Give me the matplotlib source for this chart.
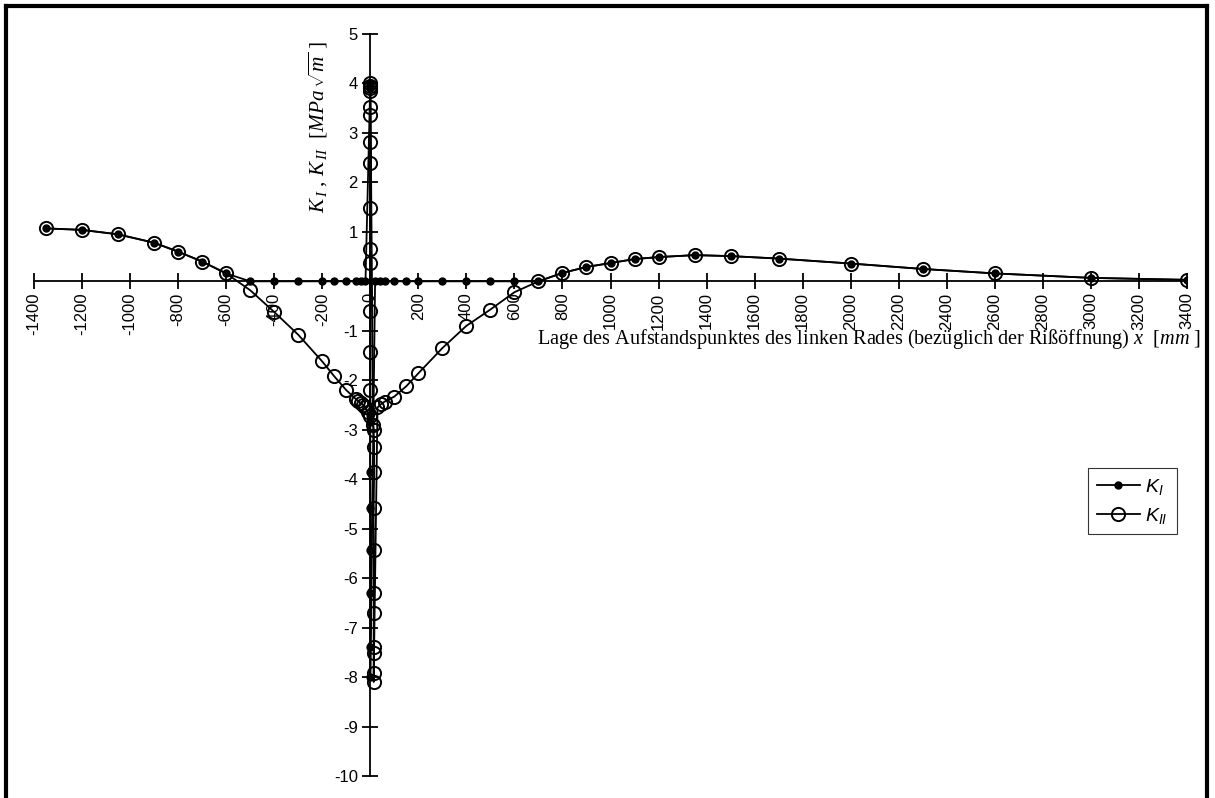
import matplotlib
matplotlib.use("Agg")
import matplotlib.pyplot as plt
from matplotlib.lines import Line2D
from matplotlib.ticker import FuncFormatter

# K_II (open circles), ordered as the line is drawn
kii_x = [-1350, -1200, -1050, -900, -800, -700, -600, -500, -400, -300, -200, -150, -100,
         -60, -50, -40, -30, -20, -10,
         0, 0, 0, 0, 0, 0, 0, 0, 0, 0, 0, 0, 0, 0, 0,
         12, 14, 16, 16, 14, 14, 14, 14, 14, 14, 14, 14,
         30, 45, 60, 100, 150, 200, 300, 400, 500, 600, 700, 800, 900, 1000, 1100, 1200,
         1350, 1500, 1700, 2000, 2300, 2600, 3000, 3400]
kii_y = [1.07, 1.04, 0.95, 0.78, 0.60, 0.40, 0.16, -0.18, -0.62, -1.08, -1.62, -1.92, -2.20,
         -2.38, -2.42, -2.46, -2.50, -2.55, -2.65,
         -2.72, -2.20, -1.43, -0.60, 0.38, 0.65, 1.48, 2.39, 2.81, 3.36, 3.52, 3.85, 3.90, 3.95, 4.00,
         -2.90, -3.00, -3.35, -3.86, -4.58, -5.43, -6.30, -6.70, -7.39, -7.52, -7.92, -8.10,
         -2.55, -2.48, -2.43, -2.33, -2.12, -1.86, -1.35, -0.90, -0.57, -0.22, 0.00, 0.17, 0.29, 0.37, 0.45, 0.49,
         0.53, 0.51, 0.46, 0.36, 0.25, 0.16, 0.07, 0.03]

# K_I (filled dots)
ki_x = [-1350, -1200, -1050, -900, -800, -700, -600, -500, -400, -300, -200, -150, -100,
        -60, -40, -20,
        0, 0, 0, 0, 0, 0, 0, 0, 0, 0,
        20, 40, 60, 100, 150, 200, 300, 400, 500, 600, 700, 800, 900, 1000, 1100, 1200,
        1350, 1500, 1700, 2000, 2300, 2600, 3000, 3400]
ki_y = [1.07, 1.04, 0.95, 0.78, 0.60, 0.40, 0.16, 0, 0, 0, 0, 0, 0,
        0, 0, 0,
        4.00, 3.90, -2.70, -2.85, -3.85, -4.58, -5.43, -6.30, -7.40, -8.00,
        0, 0, 0, 0, 0, 0, 0, 0, 0, 0, 0, 0.17, 0.29, 0.37, 0.45, 0.49,
        0.53, 0.51, 0.46, 0.36, 0.25, 0.16, 0.07, 0.03]

x_ticks = list(range(-1400, 3401, 200))
y_ticks = list(range(-10, 6))

plt.rcParams["font.family"] = "Liberation Sans"
plt.rcParams["mathtext.fontset"] = "custom"
plt.rcParams["mathtext.rm"] = "Liberation Serif"
plt.rcParams["mathtext.it"] = "Liberation Serif:italic"
plt.rcParams["mathtext.sf"] = "Liberation Sans:italic"
plt.rcParams["mathtext.bf"] = "Liberation Serif:bold"

fig = plt.figure(figsize=(12.15, 7.98), dpi=100, facecolor="white")
ax = fig.add_axes([34 / 1215, 22 / 798, 1153 / 1215, 742 / 798])
ax.set_facecolor("white")

ax.plot(kii_x, kii_y, color="black", linewidth=1.3, marker="o", markersize=9.5,
        markerfacecolor="none", markeredgecolor="black", markeredgewidth=1.4,
        label=r"$\mathsf{K_{II}}$", zorder=3)
ax.plot(ki_x, ki_y, color="black", linewidth=1.3, marker="o", markersize=5,
        markerfacecolor="black", markeredgecolor="black",
        label=r"$\mathsf{K_{I}}$", zorder=4)

ax.set_xlim(-1400, 3400)
ax.set_ylim(-10, 5)
ax.set_xticks(x_ticks)
ax.set_yticks(y_ticks)
# plain hyphen as minus sign, like the original; y label at the origin is left out
ax.xaxis.set_major_formatter(FuncFormatter(lambda v, p: f"{v:g}"))
ax.yaxis.set_major_formatter(FuncFormatter(lambda v, p: "" if v == 0 else f"{v:g}"))

ax.spines["left"].set_position(("data", 0))
ax.spines["bottom"].set_position(("data", 0))
ax.spines["top"].set_visible(False)
ax.spines["right"].set_visible(False)
for s in ("left", "bottom"):
    ax.spines[s].set_linewidth(1.3)
    ax.spines[s].set_zorder(2)

ax.tick_params(axis="both", direction="inout", length=12, width=1.3, labelsize=12, color="black")
ax.tick_params(axis="x", labelrotation=90, pad=2)
ax.tick_params(axis="y", pad=3)

# axis titles
fig.text(318 / 1215, 1 - 127 / 798,
         r"$K_{\,I}$ , $K_{\,II}$  [$MPa\,\sqrt{m}$ ]",
         rotation=90, ha="center", va="center", fontsize=15.3, family="Liberation Serif")
fig.text(1201 / 1215, 1 - 339 / 798,
         r"Lage des Aufstandspunktes des linken Rades (bezüglich der Rißöffnung) $x$  [$mm$ ]",
         ha="right", va="center", fontsize=14.6, family="Liberation Serif")

handles, labels = ax.get_legend_handles_labels()
leg = ax.legend(handles[::-1], labels[::-1], loc="upper left",
                bbox_to_anchor=(1088 / 1215, 1 - 468 / 798), bbox_transform=fig.transFigure,
                borderaxespad=0, frameon=True, fancybox=False, edgecolor="black", fontsize=14,
                handlelength=2.2, handletextpad=0.3, borderpad=0.45, labelspacing=0.45)
leg.get_frame().set_linewidth(0.8)

# outer frame
for xs, ys in [((6 / 1215, 6 / 1215), (0, 1 - 6 / 798)),
               ((6 / 1215, 1207 / 1215), (1 - 6 / 798, 1 - 6 / 798)),
               ((1207 / 1215, 1207 / 1215), (1 - 6 / 798, 0))]:
    fig.add_artist(Line2D(xs, ys, color="black", linewidth=3, transform=fig.transFigure))

fig.savefig("out.png", dpi=100, facecolor="white")
